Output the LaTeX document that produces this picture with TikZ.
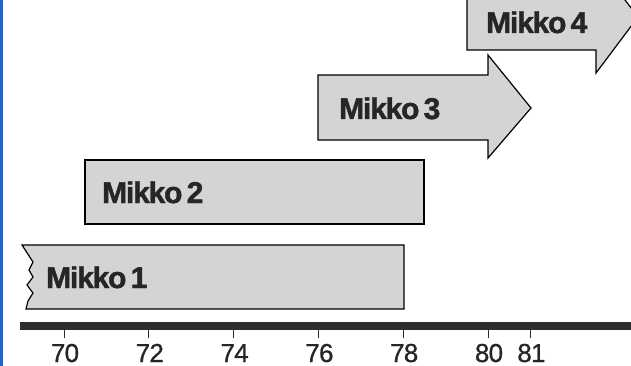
\documentclass[tikz,border=0pt]{standalone}
\usepackage{fontspec}
\setmainfont{Liberation Sans}
\newfontfamily\lblfont[LetterSpace=-4,WordSpace=0.6,FakeBold=1.5]{Liberation Sans Bold}
\newfontfamily\yrfont[LetterSpace=-3,FakeBold=0.8]{Liberation Sans}
\definecolor{barfill}{HTML}{D4D4D4}
\definecolor{axisgray}{HTML}{2E2E2E}
\definecolor{edgeblue}{HTML}{2A62C0}
\begin{document}
\begin{tikzpicture}[x=1pt,y=-1pt,
  bar/.style={draw=black,line width=1.2pt,fill=barfill,line join=miter},
  lbl/.style={font=\lblfont\fontsize{30}{30}\selectfont,text=black!85,anchor=base west,inner sep=0pt},
  yr/.style={font=\yrfont\fontsize{26}{26}\selectfont,text=black!85,anchor=base,inner sep=0pt},
  tickline/.style={draw=axisgray,line width=1pt}]
\useasboundingbox (0,0) rectangle (631,366);
\begin{scope}
\clip (0,0) rectangle (631,366);
% blue page edge
\fill[edgeblue] (0,0) rectangle (2.5,366);
% Mikko 1 (torn left edge)
\draw[bar] (22,245) -- (404,245) -- (404,309) -- (26,309) -- (28,301) -- (33,293)
  -- (27,285) -- (33,277) -- (29,270) -- (33,262) -- cycle;
\node[lbl] (m1) at (46,288) {Mikko 1};
% Mikko 2
\draw[bar] (85,160) rectangle (424,224);
\node[lbl] (m2) at (102,203) {Mikko 2};
% Mikko 3 arrow
\draw[bar] (318,75) -- (488,75) -- (488,55) -- (531,108) -- (488,158) -- (488,140)
  -- (318,140) -- cycle;
\node[lbl] (m3) at (339,119) {Mikko 3};
% Mikko 4 arrow (cut by the frame)
\draw[bar] (467,-15) -- (596,-15) -- (596,-38) -- (638,17) -- (596,73) -- (596,50)
  -- (467,50) -- cycle;
\node[lbl] (m4) at (486,33) {Mikko 4};
% time axis
\fill[axisgray] (20,322) rectangle (640,330);
\foreach \yy in {70,72,74,76,78,80,81} {
  \draw[tickline] ({64+42.4*(\yy-70)},330) -- ({64+42.4*(\yy-70)},338);
  \node[yr] (y\yy) at ({65+42.4*(\yy-70)},362) {\yy};
}
\end{scope}
\end{tikzpicture}
\end{document}
